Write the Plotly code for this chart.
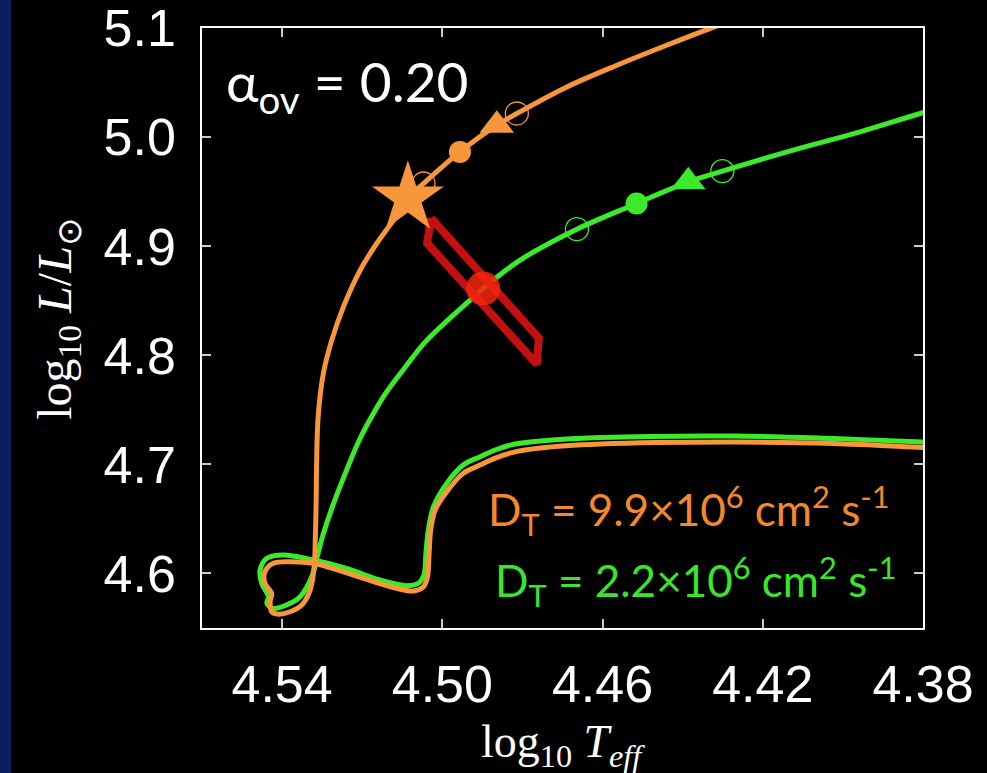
import plotly.graph_objects as go

# Evolutionary track, D_T = 9.9e6 cm^2/s (log Teff, log L/Lsun)
orange_logT = [4.3757, 4.3802, 4.4024, 4.4274, 4.4606, 4.4756, 4.4831, 4.4868, 4.4906,
               4.4948, 4.4989, 4.5018, 4.5029, 4.5033, 4.5037, 4.5047, 4.5072, 4.5114,
               4.5197, 4.5280, 4.5322, 4.5380, 4.5422, 4.5443, 4.5443, 4.5426, 4.5430,
               4.5426, 4.5413, 4.5380, 4.5351, 4.5330, 4.5320, 4.5317, 4.5315, 4.5314,
               4.5310, 4.5297, 4.5276, 4.5247, 4.5205, 4.5164, 4.5122, 4.5086, 4.5047,
               4.4956, 4.4864, 4.4814, 4.4689, 4.4564, 4.4440, 4.4332, 4.4257]
orange_logL = [4.7150, 4.7156, 4.7193, 4.7205, 4.7187, 4.7150, 4.7104, 4.7058, 4.6994,
               4.6918, 4.6749, 4.6582, 4.6398, 4.6185, 4.5970, 4.5878, 4.5839, 4.5864,
               4.5955, 4.6053, 4.6093, 4.6108, 4.6093, 4.6016, 4.5910, 4.5818, 4.5741,
               4.5649, 4.5628, 4.5649, 4.5711, 4.5848, 4.6062, 4.6337, 4.6673, 4.6978,
               4.7437, 4.7835, 4.8140, 4.8445, 4.8782, 4.9026, 4.9240, 4.9442, 4.9576,
               4.9866, 5.0111, 5.0218, 5.0462, 5.0661, 5.0844, 5.0997, 5.1092]

# Evolutionary track, D_T = 2.2e6 cm^2/s
green_logT = [4.3757, 4.3802, 4.4024, 4.4274, 4.4606, 4.4756, 4.4831, 4.4868, 4.4906,
              4.4948, 4.4989, 4.5022, 4.5035, 4.5041, 4.5046, 4.5060, 4.5089, 4.5156,
              4.5239, 4.5322, 4.5397, 4.5438, 4.5455, 4.5451, 4.5434, 4.5438, 4.5422,
              4.5389, 4.5355, 4.5326, 4.5310, 4.5298, 4.5273, 4.5239, 4.5205, 4.5172,
              4.5140, 4.5095, 4.5043, 4.4931, 4.4898, 4.4806, 4.4664, 4.4515, 4.4386,
              4.4301, 4.4124, 4.3957, 4.3807, 4.3757]
green_logL = [4.7196, 4.7205, 4.7237, 4.7260, 4.7246, 4.7214, 4.7177, 4.7132, 4.7070,
              4.6994, 4.6826, 4.6612, 4.6398, 4.6185, 4.5986, 4.5910, 4.5888, 4.5940,
              4.6047, 4.6123, 4.6169, 4.6139, 4.6031, 4.5910, 4.5787, 4.5726, 4.5680,
              4.5711, 4.5787, 4.5970, 4.6187, 4.6352, 4.6627, 4.6948, 4.7242, 4.7468,
              4.7660, 4.7880, 4.8122, 4.8507, 4.8614, 4.8873, 4.9157, 4.9393, 4.9591,
              4.9689, 4.9882, 5.0049, 5.0218, 5.0267]

# Marked points along each track
orange_open_T = [4.5047, 4.4814]
orange_open_L = [4.9576, 5.0218]
orange_dot_T, orange_dot_L = [4.4956], [4.9866]
orange_tri_T, orange_tri_L = [4.4864], [5.0111]
orange_star_T, orange_star_L = [4.5086], [4.9442]

green_open_T = [4.4664, 4.4301]
green_open_L = [4.9157, 4.9689]
green_dot_T, green_dot_L = [4.4515], [4.9393]
green_tri_T, green_tri_L = [4.4386], [4.9591]

# Observed star and its error box
obs_T, obs_L = [4.4898], [4.8614]
box_T = [4.5028, 4.5038, 4.4764, 4.4759, 4.5028]
box_L = [4.9258, 4.9029, 4.7920, 4.8158, 4.9258]

x_ticks = [4.54, 4.50, 4.46, 4.42, 4.38]
x_tick_text = ["4.54", "4.50", "4.46", "4.42", "4.38"]
y_ticks = [4.6, 4.7, 4.8, 4.9, 5.0, 5.1]
y_tick_text = ["4.6", "4.7", "4.8", "4.9", "5.0", "5.1"]

ORANGE = "#F7963A"
GREEN = "#3CE92B"
ORANGE_TXT = "#F5892A"
GREEN_TXT = "#3AE62A"

fig = go.Figure()

fig.add_trace(go.Scatter(x=green_logT, y=green_logL, mode="lines",
                         line=dict(color=GREEN, width=5, shape="spline", smoothing=1.0),
                         hoverinfo="skip"))
fig.add_trace(go.Scatter(x=green_open_T, y=green_open_L, mode="markers",
                         marker=dict(symbol="circle-open", size=23, color=GREEN,
                                     line=dict(width=1.3, color=GREEN))))
fig.add_trace(go.Scatter(x=green_dot_T, y=green_dot_L, mode="markers",
                         marker=dict(symbol="circle", size=22, color=GREEN)))
fig.add_trace(go.Scatter(x=green_tri_T, y=green_tri_L, mode="markers",
                         marker=dict(symbol="triangle-up", size=30, color=GREEN)))

fig.add_trace(go.Scatter(x=box_T, y=box_L, mode="lines",
                         line=dict(color="#C41010", width=8), hoverinfo="skip"))
fig.add_trace(go.Scatter(x=obs_T, y=obs_L, mode="markers",
                         marker=dict(symbol="circle", size=34, color="#F5250E", opacity=0.85)))

fig.add_trace(go.Scatter(x=orange_logT, y=orange_logL, mode="lines",
                         line=dict(color=ORANGE, width=5, shape="spline", smoothing=1.0),
                         hoverinfo="skip"))
fig.add_trace(go.Scatter(x=orange_open_T, y=orange_open_L, mode="markers",
                         marker=dict(symbol="circle-open", size=23, color=ORANGE,
                                     line=dict(width=1.3, color=ORANGE))))
fig.add_trace(go.Scatter(x=orange_dot_T, y=orange_dot_L, mode="markers",
                         marker=dict(symbol="circle", size=22, color=ORANGE)))
fig.add_trace(go.Scatter(x=orange_tri_T, y=orange_tri_L, mode="markers",
                         marker=dict(symbol="triangle-up", size=30, color=ORANGE)))
fig.add_trace(go.Scatter(x=orange_star_T, y=orange_star_L, mode="markers",
                         marker=dict(symbol="star", size=54, color=ORANGE)))

axis_common = dict(showgrid=False, zeroline=False, showline=True, linecolor="white",
                   linewidth=1.5, mirror="ticks", ticks="inside", ticklen=9,
                   tickwidth=1.5, tickcolor="#cccccc", ticklabeloverflow="allow",
                   automargin=False,
                   tickfont=dict(family="Liberation Sans, Arial", size=52, color="white"))

fig.update_xaxes(range=[4.56, 4.38], tickvals=x_ticks, ticktext=x_tick_text,
                 ticklabelstandoff=10, **axis_common)
fig.update_yaxes(range=[4.55, 5.1002], tickvals=y_ticks, ticktext=y_tick_text,
                 ticklabelstandoff=14, **axis_common)

annotations = [
    dict(text="α<sub>ov</sub> = 0.20", x=0.03, y=0.905, xref="paper", yref="paper",
         xanchor="left", yanchor="middle", showarrow=False,
         font=dict(family="Lato", size=55, color="white")),
    dict(text="D<sub>T</sub> = 9.9×10<sup>6</sup> cm<sup>2</sup> s<sup>-1</sup>",
         x=0.957, y=0.195, xref="paper", yref="paper", xanchor="right", yanchor="middle",
         showarrow=False, font=dict(family="Lato", size=44, color=ORANGE_TXT)),
    dict(text="D<sub>T</sub> = 2.2×10<sup>6</sup> cm<sup>2</sup> s<sup>-1</sup>",
         x=0.967, y=0.078, xref="paper", yref="paper", xanchor="right", yanchor="middle",
         showarrow=False, font=dict(family="Lato", size=44, color=GREEN_TXT)),
    dict(text="log<sub>10</sub> <i>T<sub>eff</sub></i>", x=0.5, y=-0.195,
         xref="paper", yref="paper", xanchor="center", yanchor="middle", showarrow=False,
         font=dict(family="Liberation Serif", size=46, color="white")),
    dict(text="log<sub>10</sub> <i>L</i>/<i>L</i><sub>⊙</sub>", x=-0.2, y=0.515,
         xref="paper", yref="paper", xanchor="center", yanchor="middle", showarrow=False,
         textangle=-90, font=dict(family="Liberation Serif", size=48, color="white")),
]

fig.update_layout(
    width=987, height=773,
    margin=dict(l=202, r=64, t=28, b=145, autoexpand=False),
    paper_bgcolor="black", plot_bgcolor="black",
    showlegend=False,
    annotations=annotations,
    shapes=[dict(type="rect", xref="paper", yref="paper",
                 x0=-202 / 721, x1=(11 - 202) / 721, y0=-145 / 600, y1=1 + 28 / 600,
                 fillcolor="#0d1c5e", line=dict(width=0), layer="below")],
)

fig.write_html("out.html")
